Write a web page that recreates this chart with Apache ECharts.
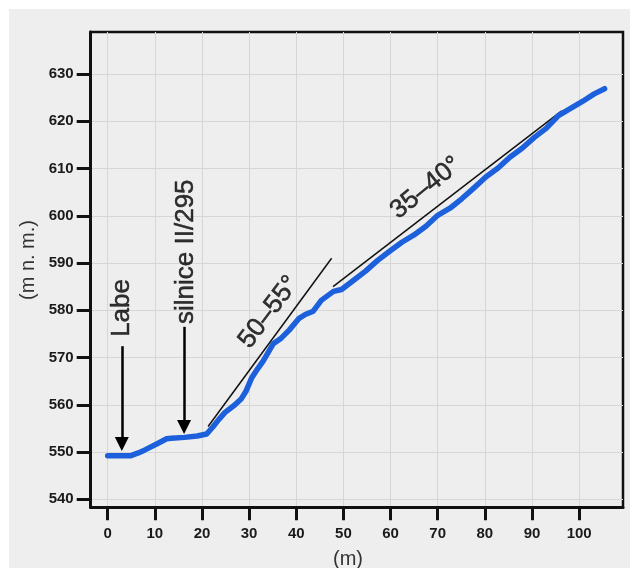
<!DOCTYPE html>
<html>
<head>
<meta charset="utf-8">
<script src="https://cdn.jsdelivr.net/npm/echarts@6/dist/echarts.min.js"></script>
<style>
html,body{margin:0;padding:0;background:#ffffff;}
#bg{position:absolute;left:9px;top:9px;width:621px;height:559px;background:#eeeeee;}
#chart{position:absolute;left:0;top:0;width:630px;height:568px;}
</style>
</head>
<body>
<div id="bg"></div>
<div id="chart"></div>
<script>
// distance along profile (m)
const distances = [0, 2, 4.8, 6.5, 7.8, 10.4, 12.5, 13.5, 16.3, 19, 21, 22.3, 23.5, 24.9, 27, 28.3, 29.3, 30.5, 31.8, 33, 35.1, 36.8, 38.5, 40.6, 41.9, 43.6, 45.3, 47.9, 49.6, 52.1, 54.7, 57.2, 59.8, 62.4, 64.9, 67.5, 70, 72.6, 75.1, 77.7, 80.2, 82.8, 85.3, 87.9, 90.5, 93, 95.6, 98.1, 100.7, 103.2, 105.4];
// elevation (m n. m.)
const elevations = [549.2, 549.2, 549.2, 549.8, 550.4, 551.7, 552.8, 552.9, 553.1, 553.4, 553.8, 555.3, 556.8, 558.4, 560.0, 561.2, 562.8, 565.6, 567.6, 569.3, 572.9, 574.1, 575.8, 578.3, 579.1, 579.8, 582.1, 584.0, 584.4, 586.3, 588.3, 590.5, 592.5, 594.4, 595.9, 597.8, 600.1, 601.6, 603.6, 605.9, 608.2, 610.1, 612.4, 614.3, 616.6, 618.5, 621.2, 622.7, 624.2, 625.8, 626.9];

const xTicks = [0, 10, 20, 30, 40, 50, 60, 70, 80, 90, 100];
const yTicks = [540, 550, 560, 570, 580, 590, 600, 610, 620, 630];

// slope guide lines [x, elevation]
const slopeLine1 = [[21.3, 555.4], [47.5, 591.0]];
const slopeLine2 = [[47.8, 585.0], [96.3, 622.2]];

// arrows [x, elevation] start -> head centre
const arrowLabe = [[3.0, 572.4], [3.0, 551.7]];
const arrowRoad = [[16.2, 576.5], [16.2, 555.3]];

// annotation texts and anchors (data coords)
const annotTexts = ['Labe', 'silnice II/295', '50–55°', '35–40°'];
const annotAnchors = [[2.9, 580.5], [16.5, 592.4], [34.2, 579.6], [67.5, 605.9]];
const annotRotations = [90, 90, 53, 39];

const chart = echarts.init(document.getElementById('chart'));
const font = '"Liberation Sans", Arial, sans-serif';

const xy = distances.map((d, i) => [d, elevations[i]]);

option = {
  backgroundColor: 'transparent',
  animation: false,
  grid: {
    left: 90.7, right: 7, top: 32, bottom: 60.7,
    show: true, borderColor: '#111', borderWidth: 2.5,
    backgroundColor: 'transparent',
    outerBoundsMode: 'none', containLabel: false
  },
  xAxis: {
    type: 'value', min: -3.6, max: 109.3,
    axisLine: {show: true, onZero: false, lineStyle: {color: '#111', width: 3}},
    axisTick: {show: true, length: 13, customValues: xTicks, lineStyle: {color: '#111', width: 3}},
    axisLabel: {show: true, customValues: xTicks, margin: 19, fontFamily: font, fontWeight: 'bold', fontSize: 15, color: '#1a1a1a'},
    splitLine: {show: true, lineStyle: {color: '#d6d6d6', width: 1}}
  },
  yAxis: {
    type: 'value', min: 538.3, max: 638.9,
    axisLine: {show: true, onZero: false, lineStyle: {color: '#111', width: 3}},
    axisTick: {show: true, length: 14, customValues: yTicks, lineStyle: {color: '#111', width: 3}},
    axisLabel: {show: true, customValues: yTicks, margin: 17, fontFamily: font, fontWeight: 'bold', fontSize: 15, color: '#1a1a1a'},
    splitLine: {show: true, lineStyle: {color: '#d6d6d6', width: 1}}
  },
  graphic: [
    {type: 'text', x: 28, y: 260, rotation: Math.PI / 2,
     style: {text: '(m n. m.)', fontFamily: font, fontSize: 20, fill: '#333', align: 'center', verticalAlign: 'middle'}},
    {type: 'text', x: 348, y: 559,
     style: {text: '(m)', fontFamily: font, fontSize: 20, fill: '#333', align: 'center', verticalAlign: 'middle'}}
  ],
  series: [
    {
      type: 'line', data: slopeLine1, symbol: 'none', silent: true,
      lineStyle: {color: '#111', width: 1.5}, z: 3
    },
    {
      type: 'line', data: slopeLine2, symbol: 'none', silent: true,
      lineStyle: {color: '#111', width: 1.5}, z: 3
    },
    {
      type: 'line', data: xy, symbol: 'none', silent: true,
      lineStyle: {color: '#1c60dc', width: 5.5, cap: 'round', join: 'round'}, z: 4,
      markLine: {
        silent: true, symbol: ['none', 'triangle'], symbolSize: 14,
        lineStyle: {color: '#000', width: 2.5, type: 'solid'},
        itemStyle: {color: '#000'},
        label: {show: false},
        data: [
          [{coord: arrowLabe[0]}, {coord: arrowLabe[1]}],
          [{coord: arrowRoad[0]}, {coord: arrowRoad[1]}]
        ]
      }
    },
    {
      type: 'scatter', symbolSize: 0, silent: true, z: 5,
      data: annotAnchors.map((p, i) => ({
        value: p,
        label: {
          show: true, formatter: annotTexts[i], rotate: annotRotations[i],
          position: 'inside', align: 'center', verticalAlign: 'middle',
          fontFamily: font, fontSize: 26, color: '#000',
          textBorderColor: '#000', textBorderWidth: 0.5
        }
      }))
    }
  ]
};
chart.setOption(option);
</script>
</body>
</html>
